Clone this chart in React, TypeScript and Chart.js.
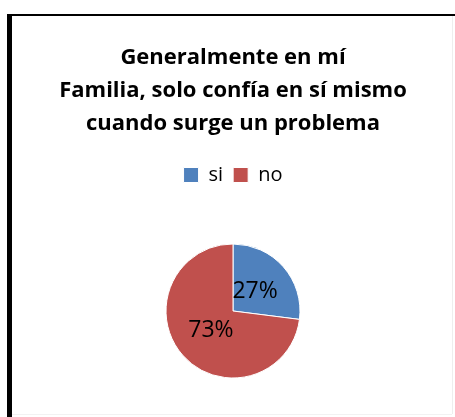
import React, { useEffect, useRef } from "react";
import { Chart, registerables } from "chart.js";

Chart.register(...registerables);

const titleLines = ["Generalmente en mí", "Familia, solo confía en sí mismo", "cuando surge un problema"];
const categories = ["si", "no"];
const values = [27, 73];
const colors = ["#4F81BD", "#C0504D"];

const labelPlugin = {
  id: "pctLabels",
  afterDatasetsDraw(chart: any) {
    const ctx = chart.ctx;
    const meta = chart.getDatasetMeta(0);
    const data = chart.data.datasets[0].data;
    ctx.save();
    ctx.font = "23px 'Open Sans'";
    ctx.fillStyle = "#000";
    ctx.textAlign = "center";
    ctx.textBaseline = "middle";
    meta.data.forEach((arc: any, i: number) => {
      const a = (arc.startAngle + arc.endAngle) / 2;
      const r = arc.outerRadius * 0.44;
      ctx.fillText(`${data[i]}%`, arc.x + Math.cos(a) * r, arc.y + Math.sin(a) * r);
    });
    ctx.restore();
  },
};

export default function App() {
  const ref = useRef<HTMLCanvasElement | null>(null);
  useEffect(() => {
    if (!ref.current) return;
    const chart = new Chart(ref.current, {
      type: "pie",
      data: {
        labels: categories,
        datasets: [
          {
            data: values,
            backgroundColor: colors,
            borderColor: "#ffffff",
            borderWidth: 1,
            radius: 67,
          },
        ],
      },
      options: {
        responsive: false,
        animation: false,
        layout: { padding: { left: 11, right: 0, top: 0, bottom: 13 } },
        plugins: {
          title: {
            display: true,
            text: titleLines,
            color: "#000",
            font: { family: "'Open Sans'", size: 22, weight: "bold", lineHeight: 1.5 },
            padding: { top: 41, bottom: 15 },
          },
          legend: {
            display: true,
            position: "top",
            labels: {
              color: "#000",
              font: { family: "'Open Sans'", size: 20 },
              boxWidth: 15,
              boxHeight: 15,
              padding: 10,
            },
          },
          tooltip: { enabled: false },
        },
      },
      plugins: [labelPlugin],
    });
    return () => chart.destroy();
  }, []);

  return (
    <div style={{ position: "absolute", left: 0, top: 0, width: 455, height: 417, background: "#fff", overflow: "hidden" }}>
      <canvas ref={ref} width={455} height={440} style={{ position: "absolute", left: 0, top: 0 }} />
      <div style={{ position: "absolute", left: 7, top: 14, width: 5, height: 403, background: "#000" }} />
      <div style={{ position: "absolute", left: 7, top: 14, width: 448, height: 2, background: "#000" }} />
      <div style={{ position: "absolute", left: 452, top: 16, width: 1, height: 398, background: "#eeeeee" }} />
      <div style={{ position: "absolute", left: 12, top: 414, width: 440, height: 1, background: "#f2f2f2" }} />
    </div>
  );
}
